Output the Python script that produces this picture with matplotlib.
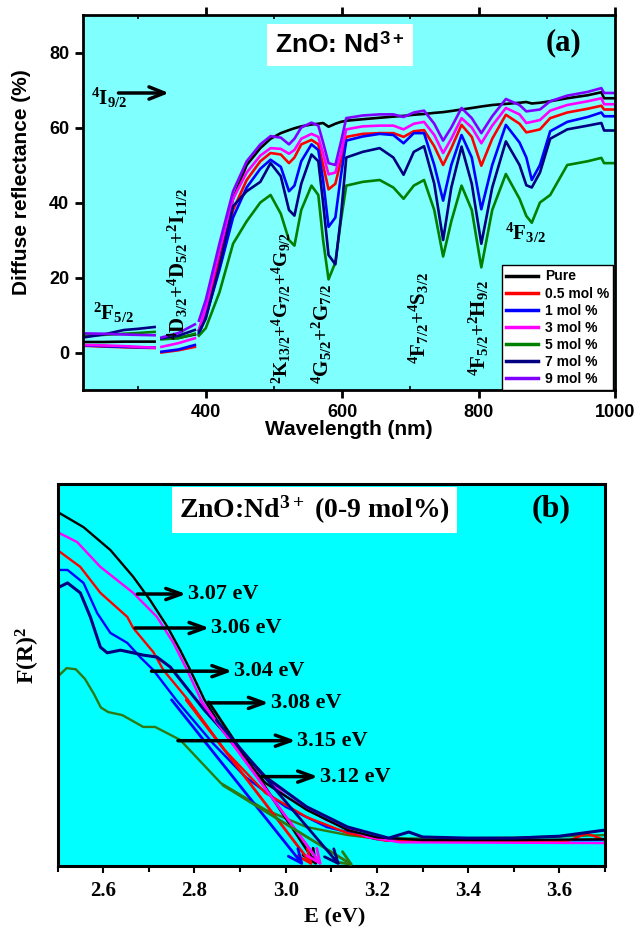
import numpy as np
import matplotlib
matplotlib.use("Agg")
import matplotlib.pyplot as plt
from matplotlib.ticker import MultipleLocator

plt.rcParams.update({
    "font.family": "Liberation Sans",
    "font.weight": "bold",
    "axes.labelweight": "bold",
    "mathtext.fontset": "custom",
    "mathtext.rm": "Liberation Serif:bold",
    "mathtext.it": "Liberation Serif:bold",
    "mathtext.bf": "Liberation Serif:bold",
    "mathtext.sf": "Liberation Sans:bold",
})
SERIF = "Liberation Serif"
nan = np.nan

# ---- (a) diffuse reflectance (%), shared wavelength grid; nan = detector changeover gaps
wavelength = [220, 250, 280, 300, 325, 330, 335, 360, 384, 386,
              390, 400, 420, 440, 460, 480,
              495, 510, 522, 530, 540, 555, 565, 572, 580, 590,
              598, 606, 630, 655, 675, 690, 705, 720, 735, 748,
              760, 775, 790, 804, 820, 840, 860, 870, 878, 890,
              905, 930, 960, 980, 984, 1000]
refl_pure = [2.8, 2.8, 2.9, 2.9, 2.9, nan, 3.8, 3.9, 4.8, nan,
             6, 11, 26, 41, 50, 54.5,
             57, 58.5, 59.3, 59.8, 60.3, 60.8, 61, 61.2, 60.2, 61,
             61.5, 61.8, 62.2, 62.6, 62.9, 63.1, 63.4, 63.6, 63.9, 64.1,
             64.4, 64.8, 65.2, 65.6, 66, 66.3, 66.6, 66.8, 66.4, 66.6,
             67, 67.8, 68.6, 69.4, 67.8, 67.8]
refl_05 = [1.8, 1.6, 1.4, 1.3, 1.2, nan, 0.0, 0.6, 1.5, nan,
           5, 10, 24, 38, 46, 51,
           53.2, 52.8, 50.5, 52, 55.5, 56.7, 55.5, 50, 43.5, 45,
           51, 57.5, 58.3, 58.5, 58.5, 57.5, 59, 59.3, 55, 50,
           54.5, 60.7, 57.5, 49.8, 57, 63.4, 61, 58.7, 59, 59.5,
           62.5, 64, 65, 65.8, 64.8, 64.8]
refl_1 = [1.9, 1.7, 1.5, 1.4, 1.3, nan, 0.2, 0.8, 2.0, nan,
          5, 9.5, 22, 36, 44, 49,
          51.4, 49.5, 43, 44.5, 51, 55.5, 54, 46, 33.5, 36,
          47, 56.5, 57.6, 58.3, 58, 55.8, 58.5, 58.5, 50, 40.5,
          50, 58, 52, 38.2, 50, 60.7, 56, 52, 46, 50,
          59, 61.5, 62.8, 64, 63, 63]
refl_3 = [2.0, 1.9, 1.7, 1.5, 1.3, nan, 1.5, 2.5, 3.8, nan,
          6, 12, 27, 41, 48, 52.5,
          54.5, 54.3, 53, 54, 57, 58.3, 57.5, 53, 47.5, 48,
          53, 59.5, 60.3, 60.5, 60.5, 59.5, 61, 61.5, 58, 53.2,
          57, 62.5, 60, 55.8, 60.5, 65.2, 63.5, 61.2, 61.5, 62,
          64.5, 66, 67, 67.8, 66.2, 66.2]
refl_5 = [4.5, 4.7, 5.0, 5.2, 5.5, nan, 3.5, 3.8, 5.0, nan,
          4.5, 6.5, 16, 29, 35, 40,
          42, 37, 30, 28.5, 38, 44.5, 42, 30, 19.5, 24,
          35, 44.5, 45.5, 46, 44, 41, 44.5, 46, 38, 25.6,
          35, 44.5, 38, 22.7, 38, 47.6, 41, 36.4, 34.6, 40,
          42, 50, 51, 51.9, 50.5, 50.5]
refl_7 = [4.0, 4.8, 6.0, 6.3, 6.8, nan, 3.8, 4.5, 6.0, nan,
          5.5, 9, 23, 39, 43, 45.5,
          50.5, 47, 38, 36.5, 45, 52.8, 51, 40, 26, 23.5,
          36, 52, 53.5, 54.5, 52, 47.4, 53.5, 55, 45, 30,
          44, 54.9, 45, 29, 44, 56.3, 50, 44.6, 44, 48,
          57, 59.5, 60.5, 61.2, 59.2, 59.2]
refl_9 = [5.1, 5.0, 4.8, 4.7, 4.6, nan, 4.0, 5.2, 7.5, nan,
          8.5, 14, 29, 43, 51, 55.5,
          57.7, 57.3, 55.5, 57, 60, 61.3, 60.5, 56, 50.5, 50,
          56, 62.5, 63.2, 63.5, 63.5, 62.8, 64, 64.5, 61, 56.5,
          60, 65.2, 62.5, 58.5, 63, 67.6, 66, 64.3, 64.5, 64.8,
          67, 68.5, 69.5, 70.5, 69.2, 69.2]
labels_a = ["Pure", "0.5 mol %", "1 mol %", "3 mol %", "5 mol %", "7 mol %", "9 mol %"]

# ---- (b) Kubelka-Munk F(R)^2 (arb. units) vs photon energy
E_pure = [2.50, 2.557, 2.616, 2.666, 2.703, 2.741, 2.769, 2.791, 2.822, 2.877, 2.956, 3.046, 3.136, 3.20, 3.30, 3.50, 3.70]
F_pure = [0.927, 0.887, 0.827, 0.757, 0.696, 0.626, 0.565, 0.513, 0.435, 0.330, 0.217, 0.147, 0.094, 0.075, 0.068, 0.068, 0.070]
E_05 = [2.50, 2.55, 2.594, 2.653, 2.666, 2.71, 2.732, 2.786, 2.866, 2.956, 3.046, 3.136, 3.22, 3.40, 3.62, 3.66, 3.70]
F_05 = [0.827, 0.783, 0.715, 0.652, 0.623, 0.560, 0.513, 0.435, 0.304, 0.191, 0.128, 0.086, 0.066, 0.065, 0.066, 0.085, 0.068]
E_1 = [2.50, 2.522, 2.557, 2.587, 2.616, 2.653, 2.681, 2.71, 2.76, 2.84, 2.912, 3.00, 3.09, 3.20, 3.40, 3.70]
F_1 = [0.775, 0.775, 0.741, 0.662, 0.610, 0.584, 0.547, 0.513, 0.435, 0.322, 0.233, 0.155, 0.102, 0.070, 0.066, 0.068]
E_3 = [2.50, 2.543, 2.594, 2.666, 2.718, 2.754, 2.784, 2.822, 2.912, 3.002, 3.09, 3.18, 3.25, 3.70]
F_3 = [0.874, 0.848, 0.783, 0.715, 0.652, 0.584, 0.513, 0.416, 0.277, 0.181, 0.12, 0.076, 0.062, 0.060]
E_5 = [2.50, 2.52, 2.54, 2.56, 2.58, 2.595, 2.611, 2.642, 2.688, 2.714, 2.769, 2.858, 2.956, 3.046, 3.136, 3.20, 3.30, 3.50, 3.70]
F_5 = [0.495, 0.518, 0.515, 0.49, 0.45, 0.415, 0.403, 0.395, 0.364, 0.364, 0.330, 0.217, 0.147, 0.102, 0.081, 0.072, 0.072, 0.074, 0.081]
E_7 = [2.50, 2.522, 2.55, 2.572, 2.594, 2.609, 2.638, 2.666, 2.688, 2.718, 2.747, 2.822, 2.895, 2.956,
       3.046, 3.136, 3.226, 3.245, 3.27, 3.30, 3.40, 3.50, 3.60, 3.70]
F_7 = [0.728, 0.741, 0.715, 0.652, 0.573, 0.558, 0.565, 0.558, 0.552, 0.547, 0.521, 0.408, 0.312, 0.233,
       0.155, 0.102, 0.073, 0.080, 0.089, 0.076, 0.073, 0.073, 0.078, 0.094]
# band gaps from the linear extrapolations (pure, 0.5, 1, 3, 5, 7 mol %)
band_gap = [3.07, 3.06, 3.04, 3.08, 3.15, 3.12]

col_a = ["black", "#ff0000", "#0000ff", "#ff00ff", "#008000", "#000080", "#8000ff"]
col_b = ["black", "#ff0000", "#0000ff", "#ff00ff", "#2d7a12", "#000080"]

fig = plt.figure(figsize=(6.38, 9.31), dpi=100)

# =================== panel (a)
ax = fig.add_axes([83 / 638, 1 - 390 / 931, 532 / 638, 375 / 931])
ax.set_facecolor("#80ffff")
series_a = [refl_pure, refl_05, refl_1, refl_3, refl_5, refl_7, refl_9]
for vals, c, lab in zip(series_a, col_a, labels_a):
    ax.plot(wavelength, vals, color=c, lw=1.9, label=lab, solid_joinstyle="round")
ax.set_xlim(220, 1000)
ax.set_ylim(-10, 90)
ax.set_xticks([400, 600, 800, 1000])
ax.set_yticks([0, 20, 40, 60, 80])
ax.xaxis.set_minor_locator(MultipleLocator(100))
ax.tick_params(axis="both", which="major", labelsize=13, width=2, length=6, direction="out", pad=4)
ax.tick_params(axis="x", which="minor", direction="in", length=3, width=1.2, top=True)
ax.tick_params(axis="x", which="major", top=True)
for s in ax.spines.values():
    s.set_linewidth(2)
ax.set_ylabel("Diffuse reflectance (%)", fontsize=15, fontweight="bold")
ax.set_xlabel("Wavelength (nm)", fontsize=15, fontweight="bold")
ax.yaxis.label.set_verticalalignment("center")
ax.yaxis.set_label_coords(-0.115, 0.555)
ax.xaxis.label.set_verticalalignment("center")
ax.xaxis.set_label_coords(0.5, -0.105)

ax.text(597, 82, r"ZnO: Nd$^{\mathsf{3+}}$", ha="center", va="center", fontsize=19,
        bbox=dict(facecolor="white", edgecolor="none", pad=6))
ax.text(925, 82.6, "(a)", family=SERIF, fontsize=22, ha="center", va="center")

tkw = dict(family=SERIF, fontsize=15)
ax.text(231, 68, r"$^4$I$_{9/2}$", ha="left", va="center", **tkw)
ax.annotate("", xy=(346, 69.2), xytext=(272, 69.2),
            arrowprops=dict(arrowstyle="->,head_length=0.55,head_width=0.22", lw=2.5,
                            color="black", mutation_scale=20, shrinkA=0, shrinkB=0))
ax.text(234, 10.5, r"$^2$F$_{5/2}$", ha="left", va="center", **tkw)
ax.text(838, 31.8, r"$^4$F$_{3/2}$", ha="left", va="center", **tkw)
ax.text(359, 3.3, r"$^4$D$_{3/2}$+$^4$D$_{5/2}$+$^2$I$_{11/2}$", rotation=90,
        ha="center", va="bottom", **tkw)
ax.text(511, -8.5, r"$^2$K$_{13/2}$+$^4$G$_{7/2}$+$^4$G$_{9/2}$", rotation=90,
        ha="center", va="bottom", family=SERIF, fontsize=14)
ax.text(571, -8.5, r"$^4$G$_{5/2}$+$^2$G$_{7/2}$", rotation=90, ha="center", va="bottom", **tkw)
ax.text(712, -3.0, r"$^4$F$_{7/2}$+$^4$S$_{3/2}$", rotation=90, ha="center", va="bottom", **tkw)
ax.text(800, -6.3, r"$^4$F$_{5/2}$+$^2$H$_{9/2}$", rotation=90, ha="center", va="bottom", **tkw)

leg = ax.legend(loc="lower right", bbox_to_anchor=(0.997, 0.0), prop=dict(size=10, weight="bold"),
                frameon=True, fancybox=False, edgecolor="black", framealpha=1, handlelength=2.3,
                labelspacing=0.22, borderpad=0.3, handletextpad=0.5, borderaxespad=0)
leg.get_frame().set_linewidth(1.0)
for h in leg.get_lines():
    h.set_linewidth(2.5)

# =================== panel (b)
bx = fig.add_axes([57.5 / 638, 1 - 866 / 931, 547.5 / 638, 382 / 931])
bx.set_facecolor("#00ffff")
curves_b = [(E_pure, F_pure), (E_05, F_05), (E_1, F_1), (E_3, F_3), (E_5, F_5), (E_7, F_7)]
order = [4, 2, 1, 3, 0, 5]
for i in order:
    e, f = curves_b[i]
    bx.plot(e, f, color=col_b[i], lw=2.2 if i == 5 else 1.7, solid_joinstyle="round")

# tangent start points (on the steep part of each curve), ending at the band gap
tangent_start = [(2.831, 0.43), (2.782, 0.435), (2.75, 0.435), (2.813, 0.435), (2.862, 0.212), (2.848, 0.382)]
for (es, fs), eg, c in zip(tangent_start, band_gap, col_b):
    bx.annotate("", xy=(eg, 0.0), xytext=(es, fs),
                arrowprops=dict(arrowstyle="->,head_length=0.5,head_width=0.22", lw=2.0, color=c,
                                mutation_scale=20, shrinkA=0, shrinkB=0))

# label arrows: (arrow start E, arrow tip E, height)
label_arrows = [(2.675, 2.782, 0.712), (2.670, 2.833, 0.623), (2.706, 2.883, 0.510),
                (2.831, 2.963, 0.427), (2.764, 3.022, 0.328), (2.948, 3.071, 0.234)]
label_order = [0, 1, 2, 3, 4, 5]
for (e0, e1, h), i in zip(label_arrows, label_order):
    bx.annotate("", xy=(e1, h), xytext=(e0, h),
                arrowprops=dict(arrowstyle="->,head_length=0.55,head_width=0.2", lw=2.5,
                                color="black", mutation_scale=20, shrinkA=0, shrinkB=0))
    bx.text(e1 + 0.004, h, f"{band_gap[i]:.2f} eV", family=SERIF, fontsize=16, ha="left", va="center")

bx.text(3.064, 0.932, r"ZnO:Nd$^{3+}$ (0-9 mol%)", family=SERIF, fontsize=20, ha="center", va="center",
        bbox=dict(facecolor="white", edgecolor="none", pad=5))
bx.text(3.583, 0.935, "(b)", family=SERIF, fontsize=23, ha="center", va="center")

bx.set_xlim(2.5, 3.7)
bx.set_ylim(0, 1)
bx.set_yticks([])
bx.set_xticks([2.6, 2.8, 3.0, 3.2, 3.4, 3.6])
bx.xaxis.set_minor_locator(MultipleLocator(0.1))
bx.tick_params(axis="x", which="major", labelsize=15, width=1.5, length=5, direction="out", pad=6)
bx.tick_params(axis="x", which="minor", width=1.5, length=4, direction="out")
for lab in bx.get_xticklabels():
    lab.set_fontfamily(SERIF)
    lab.set_fontweight("bold")
for s in bx.spines.values():
    s.set_linewidth(2.2)
bx.set_xlabel("E (eV)", family=SERIF, fontsize=16, fontweight="bold")
bx.xaxis.label.set_verticalalignment("center")
bx.xaxis.set_label_coords(0.507, -0.136)
bx.set_ylabel(r"F(R)$^2$", family=SERIF, fontsize=17, fontweight="bold")
bx.yaxis.label.set_verticalalignment("center")
bx.yaxis.set_label_coords(-0.054, 0.552)

fig.savefig("out.png", dpi=100)
